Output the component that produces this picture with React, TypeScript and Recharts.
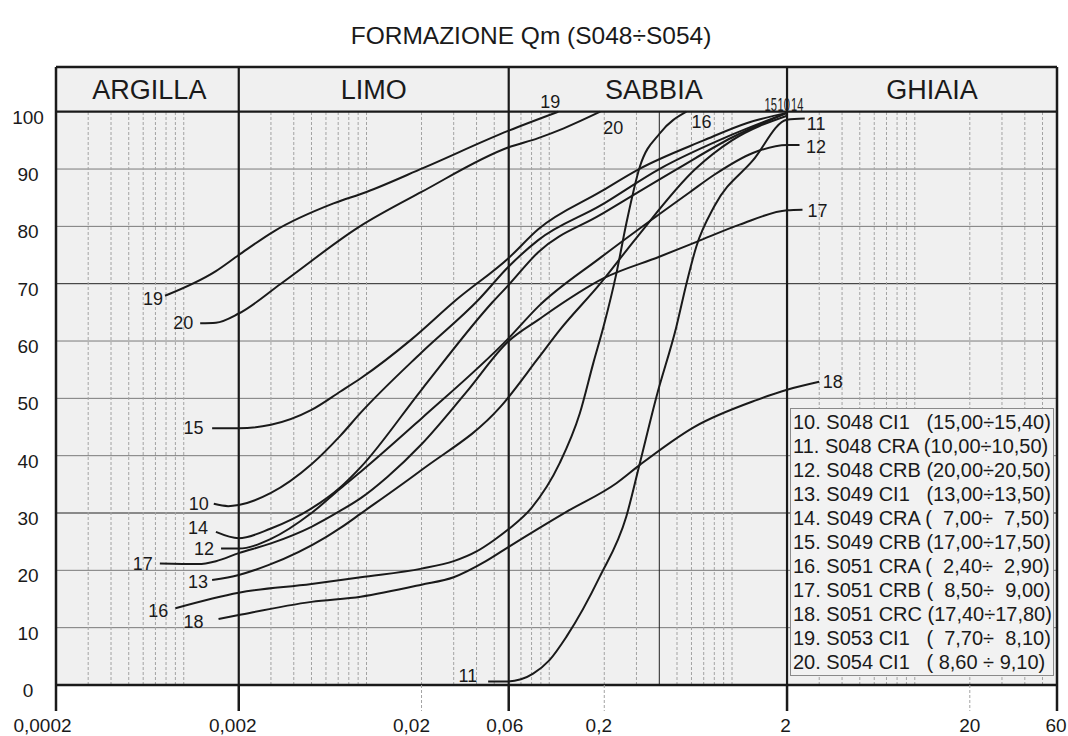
import React from "react";
import {
  LineChart,
  Line,
  XAxis,
  YAxis,
  CartesianGrid,
  ReferenceLine,
  ReferenceArea,
} from "recharts";

// grain size (mm) vs percent passing
type Pt = { d: number; p: number };
const toPts = (rows: [number, number][]): Pt[] => rows.map(([d, p]) => ({ d, p }));

const S10 = toPts([[0.00146, 31.6], [0.00175, 31.2], [0.002, 31.4], [0.003, 33.5], [0.005, 38.5], [0.0072, 43.5], [0.0093, 47.5], [0.02, 58], [0.041, 67.2], [0.06, 73], [0.087, 77.6], [0.19, 83.6], [0.4, 90], [1.0, 96], [2.0, 99.8]]);
const S11 = toPts([[0.0463, 0.6], [0.058, 0.6], [0.07, 1.0], [0.0816, 2.0], [0.1, 4.3], [0.124, 8.4], [0.189, 18.9], [0.264, 29.4], [0.313, 38.7], [0.386, 50.3], [0.496, 62.5], [0.563, 70], [0.638, 76.5], [0.8, 83.5], [1.3, 91.5], [2.0, 98.6], [2.5, 98.8]]);
const S12 = toPts([[0.0016, 23.8], [0.002, 23.8], [0.003, 25.5], [0.005, 30], [0.0072, 34.3], [0.0093, 37.2], [0.02, 46.5], [0.06, 60.5], [0.087, 66], [0.19, 74.5], [0.59, 86], [0.8, 89], [1.3, 92.8], [2.0, 94.2], [2.34, 94.2]]);
const S13 = toPts([[0.00143, 18.3], [0.002, 19.2], [0.0029, 20.9], [0.006, 25.8], [0.0072, 27.4], [0.0093, 29.9], [0.02, 37.5], [0.054, 48.5], [0.087, 57], [0.114, 61.9], [0.19, 70], [0.3, 78], [0.63, 90], [1.0, 95], [2.0, 99.3]]);
const S14 = toPts([[0.0015, 26.7], [0.002, 25.6], [0.003, 27.3], [0.005, 30.8], [0.0072, 34.5], [0.0093, 38], [0.02, 51.5], [0.049, 66.8], [0.06, 69.8], [0.087, 75.5], [0.19, 82], [0.5, 90], [1.0, 95.5], [2.0, 99.8]]);
const S15 = toPts([[0.00143, 44.8], [0.002, 44.8], [0.003, 45.4], [0.005, 48], [0.0072, 51.2], [0.0093, 53.5], [0.0175, 60.2], [0.031, 67.2], [0.06, 74.5], [0.087, 79.5], [0.19, 86], [0.31, 90], [0.7, 95], [1.2, 98], [2.0, 99.8]]);
const S16 = toPts([[0.0009, 13.4], [0.002, 16.1], [0.005, 17.6], [0.0093, 18.8], [0.02, 20.3], [0.03, 21.6], [0.04, 23.3], [0.05, 25.3], [0.06, 27.2], [0.08, 30.9], [0.114, 38.7], [0.147, 47.4], [0.174, 56.1], [0.2, 63], [0.233, 71.8], [0.264, 80.5], [0.313, 90.4], [0.402, 96.2], [0.563, 100]]);
const S17 = toPts([[0.00074, 21.2], [0.0012, 21.1], [0.0015, 21.6], [0.002, 23], [0.003, 24.7], [0.005, 27.6], [0.0072, 30.4], [0.0093, 32.6], [0.013, 36.3], [0.02, 42], [0.035, 51], [0.06, 60], [0.087, 63.7], [0.2, 71], [0.4, 74.7], [0.64, 77.3], [1.1, 80.3], [2.0, 82.8], [2.43, 82.9]]);
const S18 = toPts([[0.00155, 11.5], [0.002, 12.2], [0.005, 14.5], [0.0093, 15.4], [0.02, 17.5], [0.03, 18.8], [0.045, 21.6], [0.06, 24.1], [0.124, 30.2], [0.233, 35.2], [0.313, 38.4], [0.62, 45], [1.36, 49.7], [2.0, 51.5], [3.0, 52.9]]);
const S19 = toPts([[0.00079, 67.9], [0.0015, 72.2], [0.002, 75], [0.0031, 79.1], [0.0066, 84], [0.01, 86], [0.0205, 90.2], [0.06, 96.7], [0.112, 100]]);
const S20 = toPts([[0.00123, 63.1], [0.0015, 63.2], [0.002, 64.8], [0.0034, 70], [0.0092, 80], [0.02, 86], [0.06, 93.8], [0.087, 95.4], [0.12, 97.1], [0.19, 100]]);

const X_TICKS = [0.0002, 0.002, 0.02, 0.06, 0.2, 2, 20, 60];
const X_TICK_LABELS = ["0,0002", "0,002", "0,02", "0,06", "0,2", "2", "20", "60"];
const X_LABEL_SHIFT = [-13.5, -6, -10, -4, -5.5, -1.5, 0, -1];
const Y_TICKS = [0, 10, 20, 30, 40, 50, 60, 70, 80, 90, 100];
const Y_TOP = 107.8; // top of the header band

const BOUNDARIES = [0.002, 0.06, 2];
const SAND_SPLIT = 0.4;
const FRACTIONS = [
  { name: "ARGILLA", from: 0.0002, to: 0.002, shift: 2 },
  { name: "LIMO", from: 0.002, to: 0.06, shift: 0 },
  { name: "SABBIA", from: 0.06, to: 2, shift: 6 },
  { name: "GHIAIA", from: 2, to: 60, shift: 10 },
];
const MINOR_X = [
  0.0003, 0.0004, 0.0005, 0.0006, 0.0007, 0.0008, 0.0009, 0.001,
  0.003, 0.004, 0.005, 0.006, 0.007, 0.008, 0.009, 0.01,
  0.02, 0.03, 0.04, 0.05, 0.07, 0.08, 0.09, 0.1,
  0.2, 0.3, 0.5, 0.6, 0.7, 0.8, 0.9, 1,
  3, 4, 5, 6, 7, 8, 9, 10,
  20, 30, 40, 50,
];
const DARK_ROWS = [30, 70];

const SAMPLES = [
  "10. S048 CI1   (15,00÷15,40)",
  "11. S048 CRA (10,00÷10,50)",
  "12. S048 CRB (20,00÷20,50)",
  "13. S049 CI1   (13,00÷13,50)",
  "14. S049 CRA (  7,00÷  7,50)",
  "15. S049 CRB (17,00÷17,50)",
  "16. S051 CRA (  2,40÷  2,90)",
  "17. S051 CRB (  8,50÷  9,00)",
  "18. S051 CRC (17,40÷17,80)",
  "19. S053 CI1   (  7,70÷  8,10)",
  "20. S054 CI1   ( 8,60 ÷ 9,10)",
];

const INK = "#1a1a1a";
const PLOT_BG = "#f0f0f0";
const FONT = "'Liberation Sans', Arial, Helvetica, sans-serif";

type Tag = { dx: number; dy: number; anchor?: "start" | "end" | "middle"; sx?: number };
type Curve = { id: string; data: Pt[]; start?: Tag; end?: Tag };

const CURVES: Curve[] = [
  { id: "19", data: S19, start: { dx: -2, dy: 9.5, anchor: "end" }, end: { dx: -18, dy: -4 } },
  { id: "20", data: S20, start: { dx: -7, dy: 6, anchor: "end" }, end: { dx: 3, dy: 22 } },
  { id: "15", data: S15, start: { dx: -8.5, dy: 6, anchor: "end" }, end: { dx: -22.5, dy: -2, sx: 0.62 } },
  { id: "10", data: S10, start: { dx: -5, dy: 6.5, anchor: "end" }, end: { dx: -9.5, dy: -2, sx: 0.62 } },
  { id: "14", data: S14, start: { dx: -8, dy: 2, anchor: "end" }, end: { dx: 4, dy: -2, sx: 0.62 } },
  { id: "12", data: S12, start: { dx: -7, dy: 6, anchor: "end" }, end: { dx: 6.5, dy: 8 } },
  { id: "17", data: S17, start: { dx: -7, dy: 7, anchor: "end" }, end: { dx: 5, dy: 7.5 } },
  { id: "13", data: S13, start: { dx: -4, dy: 7.5, anchor: "end" } },
  { id: "16", data: S16, start: { dx: -7, dy: 9, anchor: "end" }, end: { dx: 5, dy: 16 } },
  { id: "18", data: S18, start: { dx: -15, dy: 8.5, anchor: "end" }, end: { dx: 3.5, dy: 6.5 } },
  { id: "11", data: S11, start: { dx: -11, dy: 0, anchor: "end" }, end: { dx: 2, dy: 11 } },
];

function makeDot(c: Curve) {
  const last = c.data.length - 1;
  return (props: any) => {
    const { cx, cy, index } = props;
    const key = `tag-${c.id}-${index}`;
    const tag = index === 0 ? c.start : index === last ? c.end : undefined;
    if (!tag || cx == null || cy == null) return <g key={key} />;
    const sx = tag.sx ?? 1;
    return (
      <text
        key={key}
        transform={`translate(${cx + tag.dx},${cy + tag.dy}) scale(${sx},1)`}
        textAnchor={tag.anchor ?? "start"}
        fontSize={18}
        fill={INK}
        opacity={sx !== 1 ? 0.99 : 1}
      >
        {c.id}
      </text>
    );
  };
}

const XTick = (props: any) => {
  const { x, y, payload } = props;
  const v = payload.value;
  const i = X_TICKS.indexOf(v);
  const solid = v === 0.0002 || v === 60 || BOUNDARIES.includes(v);
  return (
    <g>
      {solid ? (
        <line x1={x} x2={x} y1={y} y2={y + 26} stroke={INK} strokeWidth={2.5} />
      ) : (
        <line x1={x} x2={x} y1={y} y2={y + 26} stroke="#a3a3a3" strokeDasharray="3 2" />
      )}
      <text x={x + (X_LABEL_SHIFT[i] ?? 0)} y={y + 46.5} textAnchor="middle" fontSize={19} fill={INK}>
        {X_TICK_LABELS[i] ?? String(v)}
      </text>
    </g>
  );
};

const YTick = (props: any) => {
  const { y, payload } = props;
  return (
    <text x={28} y={y + 12} textAnchor="middle" fontSize={19} fill={INK}>
      {payload.value}
    </text>
  );
};

export default function App() {
  return (
    <div style={{ position: "absolute", left: 0, top: 0, width: 1068, height: 736, background: "#fff", fontFamily: FONT }}>
      <div style={{ position: "absolute", left: 0, top: 22, width: 1062, textAlign: "center", fontSize: 24.5, lineHeight: "28px", color: INK }}>
        FORMAZIONE Qm (S048÷S054)
      </div>
      <LineChart width={1068} height={736} margin={{ top: 67, right: 11, bottom: 0, left: 0 }} style={{ fontFamily: FONT }}>
        <CartesianGrid fill={PLOT_BG} fillOpacity={1} horizontal={false} vertical={false} stroke="none" />
        <XAxis
          type="number"
          dataKey="d"
          scale="log"
          domain={[0.0002, 60]}
          ticks={X_TICKS}
          interval={0}
          height={51}
          tickSize={0}
          tickMargin={0}
          axisLine={false}
          tickLine={false}
          tick={(p: any) => <XTick {...p} />}
        />
        <YAxis
          type="number"
          domain={[0, Y_TOP]}
          ticks={Y_TICKS}
          interval={0}
          width={56}
          tickSize={0}
          axisLine={false}
          tickLine={false}
          tick={(p: any) => <YTick {...p} />}
        />
        {FRACTIONS.map((f) => (
          <ReferenceArea
            key={f.name}
            x1={f.from}
            x2={f.to}
            y1={100}
            y2={Y_TOP}
            fill="none"
            stroke="none"
            label={{ value: f.name, position: "center", fontSize: 27, fill: INK, dx: f.shift }}
          />
        ))}
        {Y_TICKS.filter((t) => t > 0 && t < 100).map((t) => (
          <ReferenceLine
            key={`h${t}`}
            y={t}
            stroke={DARK_ROWS.includes(t) ? "#222" : "#7a7a7a"}
            strokeWidth={1}
          />
        ))}
        {MINOR_X.map((v) => (
          <ReferenceLine
            key={`v${v}`}
            segment={[{ x: v, y: 0 }, { x: v, y: 100 }]}
            stroke="#a3a3a3"
            strokeWidth={1}
            strokeDasharray="3 2"
          />
        ))}
        <ReferenceLine segment={[{ x: SAND_SPLIT, y: 0 }, { x: SAND_SPLIT, y: 100 }]} stroke="#222" strokeWidth={1} />
        {BOUNDARIES.map((v) => (
          <ReferenceLine key={`b${v}`} x={v} stroke={INK} strokeWidth={2.2} />
        ))}
        <ReferenceLine y={100} stroke={INK} strokeWidth={2.2} />
        <ReferenceLine y={0} stroke={INK} strokeWidth={2.5} />
        <ReferenceLine y={Y_TOP} stroke={INK} strokeWidth={2.5} />
        <ReferenceLine x={0.0002} stroke={INK} strokeWidth={2.5} />
        <ReferenceLine x={60} stroke={INK} strokeWidth={2.5} />
        {CURVES.map((c) => (
          <Line
            key={c.id}
            data={c.data}
            dataKey="p"
            type="monotone"
            stroke={INK}
            strokeWidth={2}
            dot={makeDot(c)}
            activeDot={false}
            isAnimationActive={false}
          />
        ))}
      </LineChart>
      <div
        style={{
          position: "absolute",
          left: 790,
          top: 408,
          width: 264,
          height: 268,
          background: "#f2f2f2",
          border: "1px solid #8a8a8a",
          paddingTop: 1,
          boxSizing: "border-box",
          color: INK,
          fontSize: 20,
        }}
      >
        {SAMPLES.map((s) => (
          <div key={s} style={{ height: 24, lineHeight: "24px", whiteSpace: "pre", paddingLeft: 2 }}>
            {s}
          </div>
        ))}
      </div>
    </div>
  );
}
